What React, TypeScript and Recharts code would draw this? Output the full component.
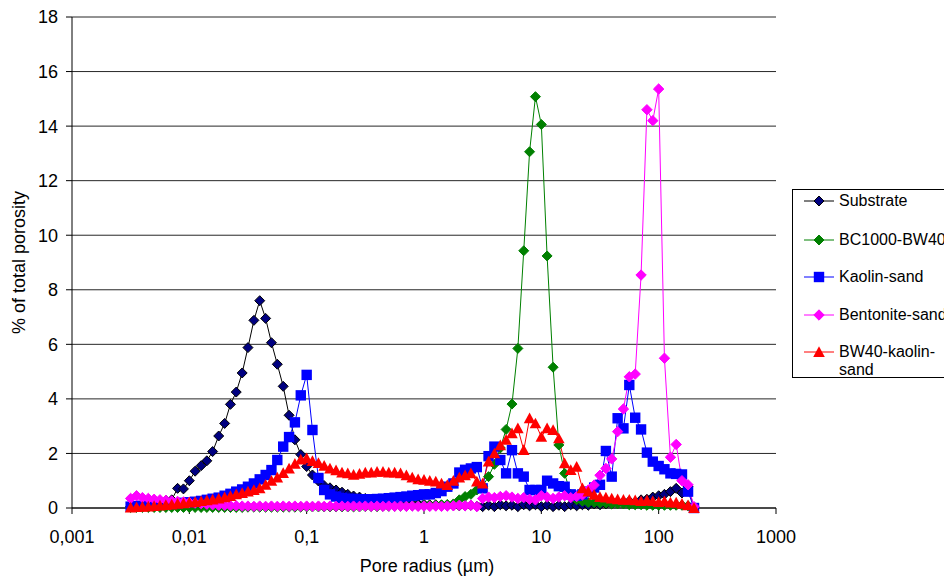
import { LineChart, Line, XAxis, YAxis, CartesianGrid } from 'recharts';

// pore radius (µm), shared by all five curves
const radius = [
  0.00316, 0.00355, 0.00398, 0.00447, 0.00501, 0.00562, 0.00631, 0.00708, 0.00794, 0.00891,
  0.01, 0.0112, 0.0126, 0.0141, 0.0158, 0.0178, 0.02, 0.0224, 0.0251, 0.0282,
  0.0316, 0.0355, 0.0398, 0.0447, 0.0501, 0.0562, 0.0631, 0.0708, 0.0794, 0.0891,
  0.1, 0.112, 0.126, 0.141, 0.158, 0.178, 0.2, 0.224, 0.251, 0.282,
  0.316, 0.355, 0.398, 0.447, 0.501, 0.562, 0.631, 0.708, 0.794, 0.891,
  1, 1.12, 1.26, 1.41, 1.58, 1.78, 2, 2.24, 2.51, 2.82,
  3.16, 3.55, 3.98, 4.47, 5.01, 5.62, 6.31, 7.08, 7.94, 8.91,
  10, 11.2, 12.6, 14.1, 15.8, 17.8, 20, 22.4, 25.1, 28.2,
  31.6, 35.5, 39.8, 44.7, 50.1, 56.2, 63.1, 70.8, 79.4, 89.1,
  100, 112, 126, 141, 158, 178, 200,
];

const substrate = [
  0.05, 0.08, 0.1, 0.12, 0.15, 0.2, 0.28, 0.3, 0.72, 0.7,
  1.0, 1.35, 1.55, 1.73, 2.07, 2.64, 3.1, 3.8, 4.25, 4.95,
  5.88, 6.88, 7.6, 6.95, 6.06, 5.27, 4.46, 3.4, 2.5, 1.96,
  1.52, 1.21, 0.99, 0.82, 0.74, 0.66, 0.58, 0.5, 0.44, 0.4,
  0.35, 0.31, 0.28, 0.25, 0.22, 0.2, 0.18, 0.17, 0.15, 0.14,
  0.13, 0.12, 0.12, 0.1, 0.1, 0.1, 0.08, 0.08, 0.1, 0.06,
  0.05, 0.1, 0.05, 0.12, 0.08, 0.1, 0.05, 0.12, 0.08, 0.12,
  0.05, 0.1, 0.05, 0.1, 0.05, 0.12, 0.08, 0.12, 0.1, 0.15,
  0.12, 0.15, 0.15, 0.2, 0.22, 0.25, 0.2, 0.3, 0.32, 0.4,
  0.45, 0.5, 0.6, 0.72, 0.55, 0.8, 0,
];

const bc1000 = [
  0.02, 0.02, 0.02, 0.02, 0.02, 0.02, 0.02, 0.02, 0.02, 0.02,
  0.02, 0.02, 0.02, 0.02, 0.02, 0.02, 0.02, 0.02, 0.02, 0.02,
  0.03, 0.03, 0.03, 0.03, 0.03, 0.03, 0.03, 0.03, 0.03, 0.03,
  0.04, 0.04, 0.04, 0.04, 0.04, 0.04, 0.04, 0.04, 0.04, 0.04,
  0.05, 0.05, 0.05, 0.06, 0.06, 0.06, 0.07, 0.07, 0.08, 0.08,
  0.09, 0.1, 0.1, 0.12, 0.13, 0.15, 0.3, 0.42, 0.5, 0.66,
  0.8, 1.15, 1.6, 2.2, 2.88, 3.81, 5.85, 9.43, 13.06, 15.08,
  14.06, 9.24, 5.16, 2.31, 1.27, 0.5, 0.3, 0.25, 0.2, 0.2,
  0.18, 0.18, 0.15, 0.15, 0.15, 0.12, 0.12, 0.12, 0.1, 0.1,
  0.1, 0.1, 0.1, 0.1, 0.1, 0.08, 0,
];

const kaolin = [
  0.05, 0.07, 0.08, 0.09, 0.1, 0.12, 0.13, 0.15, 0.17, 0.19,
  0.21, 0.23, 0.26, 0.3, 0.34, 0.38, 0.45, 0.52, 0.6, 0.68,
  0.78, 0.9, 1.05, 1.21, 1.39, 1.76, 2.25, 2.6, 3.14, 4.13,
  4.88, 2.86, 1.1, 0.66, 0.5, 0.42, 0.37, 0.34, 0.33, 0.32,
  0.32, 0.32, 0.33, 0.34, 0.36, 0.38, 0.4, 0.42, 0.45, 0.47,
  0.5, 0.5, 0.55, 0.62, 0.78, 0.9, 1.3, 1.4, 1.45, 1.5,
  0.72, 1.9, 2.25, 1.76, 1.27, 2.12, 1.27, 1.15, 0.66, 0.66,
  0.66, 1.0, 0.9, 0.8, 0.78, 0.5, 0.45, 0.5, 0.6, 0.75,
  0.85, 2.09, 1.15, 3.29, 2.92, 4.51, 3.31, 2.88, 2.03, 1.7,
  1.54, 1.42, 1.27, 1.25, 1.23, 0.6, 0,
];

const bentonite = [
  0.35, 0.45, 0.38, 0.35, 0.32, 0.3, 0.28, 0.26, 0.24, 0.22,
  0.2, 0.18, 0.16, 0.14, 0.12, 0.1, 0.1, 0.08, 0.08, 0.07,
  0.07, 0.06, 0.07, 0.06, 0.07, 0.06, 0.07, 0.06, 0.07, 0.06,
  0.07, 0.06, 0.07, 0.06, 0.07, 0.06, 0.07, 0.06, 0.07, 0.06,
  0.07, 0.06, 0.07, 0.06, 0.07, 0.06, 0.07, 0.06, 0.07, 0.06,
  0.07, 0.06, 0.07, 0.06, 0.07, 0.08, 0.1, 0.08, 0.1, 0.05,
  0.35, 0.4, 0.38, 0.42, 0.45, 0.4, 0.35, 0.38, 0.32, 0.3,
  0.45, 0.4, 0.35, 0.4, 0.45, 0.38, 0.42, 0.48, 0.66, 0.84,
  1.2, 1.45, 1.8, 2.8, 3.63, 4.81, 4.91, 8.54, 14.6, 14.2,
  15.36, 5.49, 1.86, 2.33, 1.0, 0.85, 0.05,
];

const bw40 = [
  0.02, 0.03, 0.04, 0.05, 0.07, 0.09, 0.11, 0.13, 0.15, 0.17,
  0.2, 0.22, 0.25, 0.28, 0.31, 0.35, 0.39, 0.44, 0.5, 0.55,
  0.6, 0.66, 0.72, 0.85, 1.0, 1.12, 1.28, 1.45, 1.62, 1.78,
  1.82, 1.72, 1.65, 1.55, 1.45, 1.38, 1.3, 1.27, 1.22, 1.25,
  1.3, 1.3, 1.33, 1.33, 1.3, 1.3, 1.27, 1.2, 1.12, 1.05,
  1.03, 1.0, 0.97, 0.9, 0.84, 1.0, 1.12, 1.2, 1.27, 0.97,
  0.9, 1.7, 2.0, 2.3, 2.5, 2.74, 2.92, 2.12, 3.29, 3.1,
  2.61, 2.92, 2.86, 2.55, 1.64, 1.39, 1.51, 0.72, 0.6, 0.48,
  0.4, 0.38, 0.35, 0.32, 0.3, 0.3, 0.28, 0.25, 0.28, 0.25,
  0.22, 0.25, 0.2, 0.2, 0.15, 0.1, 0,
];

const xTicks = [0.001, 0.01, 0.1, 1, 10, 100, 1000];
const xTickLabels = ['0,001', '0,01', '0,1', '1', '10', '100', '1000'];
const yTicks = [0, 2, 4, 6, 8, 10, 12, 14, 16, 18];

const FONT = '"Liberation Sans", Arial, sans-serif';

type DotProps = { cx?: number; cy?: number; index?: number };

function diamond(fill: string, stroke: string, r: number) {
  return (p: DotProps) => {
    if (p.cx == null || p.cy == null) return <g key={p.index} />;
    const { cx, cy } = p;
    return (
      <path
        key={p.index}
        d={`M${cx},${cy - r}L${cx + r},${cy}L${cx},${cy + r}L${cx - r},${cy}Z`}
        fill={fill}
        stroke={stroke}
        strokeWidth={1}
      />
    );
  };
}

function square(fill: string, h: number) {
  return (p: DotProps) => {
    if (p.cx == null || p.cy == null) return <g key={p.index} />;
    return <rect key={p.index} x={p.cx - h} y={p.cy - h} width={h * 2} height={h * 2} fill={fill} />;
  };
}

function triangle(fill: string, r: number) {
  return (p: DotProps) => {
    if (p.cx == null || p.cy == null) return <g key={p.index} />;
    const { cx, cy } = p;
    return (
      <path
        key={p.index}
        d={`M${cx},${cy - r}L${cx + r},${cy + r * 0.85}L${cx - r},${cy + r * 0.85}Z`}
        fill={fill}
      />
    );
  };
}

const series = [
  { key: 'substrate', name: 'Substrate', line: '#000000', dot: diamond('#000080', '#000000', 5) },
  { key: 'bc1000', name: 'BC1000-BW40', line: '#008000', dot: diamond('#008000', '#008000', 5) },
  { key: 'kaolin', name: 'Kaolin-sand', line: '#0000ff', dot: square('#0000ff', 5.2) },
  { key: 'bentonite', name: 'Bentonite-sand', line: '#ff00ff', dot: diamond('#ff00ff', '#ff00ff', 5.2) },
  { key: 'bw40', name: 'BW40-kaolin-sand', line: '#ff0000', dot: triangle('#ff0000', 5.8) },
];

const data = radius.map((r, i) => ({
  r,
  substrate: substrate[i],
  bc1000: bc1000[i],
  kaolin: kaolin[i],
  bentonite: bentonite[i],
  bw40: bw40[i],
}));

function LegendIcon({ idx }: { idx: number }) {
  const s = series[idx];
  const Dot = s.dot as (p: DotProps) => JSX.Element;
  return (
    <svg width={30} height={14} style={{ display: 'block', flex: 'none' }}>
      <line x1={0} y1={7} x2={30} y2={7} stroke={s.line} strokeWidth={1} />
      {Dot({ cx: 15, cy: 7, index: 0 })}
    </svg>
  );
}

const legendRows = [
  { label: ['Substrate'], top: 2 },
  { label: ['BC1000-BW40'], top: 40.5 },
  { label: ['Kaolin-sand'], top: 78 },
  { label: ['Bentonite-sand'], top: 115.5 },
  { label: ['BW40-kaolin-', 'sand'], top: 153 },
];

export default function App() {
  return (
    <div
      style={{
        position: 'absolute',
        left: 0,
        top: 0,
        width: 944,
        height: 578,
        overflow: 'hidden',
        background: '#fff',
        fontFamily: FONT,
      }}
    >
      <LineChart width={944} height={578} data={data} margin={{ top: 17, right: 168, bottom: 0, left: 0 }}>
        <CartesianGrid vertical={false} stroke="#000" strokeOpacity={0.85} />
        <XAxis
          dataKey="r"
          type="number"
          scale="log"
          domain={[0.001, 1000]}
          allowDataOverflow
          ticks={xTicks}
          tickFormatter={(_v: number, i: number) => xTickLabels[i]}
          height={70}
          tickSize={6}
          tickMargin={16}
          axisLine={{ stroke: '#000' }}
          tickLine={{ stroke: '#000' }}
          tick={{ fontSize: 18, fill: '#000' }}
          label={{
            content: (props: any) => {
              const vb = props.viewBox;
              return (
                <text x={vb.x + vb.width / 2 + 3} y={vb.y + 64} textAnchor="middle" fontSize={18} fill="#000">
                  Pore radius (µm)
                </text>
              );
            },
          }}
        />
        <YAxis
          type="number"
          domain={[0, 18]}
          ticks={yTicks}
          interval={0}
          width={72}
          tickSize={6}
          tickMargin={8}
          axisLine={{ stroke: '#000' }}
          tickLine={{ stroke: '#000' }}
          tick={{ fontSize: 18, fill: '#000' }}
          label={{
            content: (props: any) => {
              const vb = props.viewBox;
              const x = vb.x + 25;
              const y = vb.y + vb.height / 2;
              return (
                <text x={x} y={y} transform={`rotate(-90 ${x} ${y})`} textAnchor="middle" fontSize={18} fill="#000">
                  % of total porosity
                </text>
              );
            },
          }}
        />
        {series.map((s) => (
          <Line
            key={s.key}
            dataKey={s.key}
            name={s.name}
            type="linear"
            stroke={s.line}
            strokeWidth={1}
            dot={s.dot as any}
            activeDot={false}
            isAnimationActive={false}
          />
        ))}
      </LineChart>
      <div
        style={{
          position: 'absolute',
          left: 792,
          top: 189,
          width: 170,
          height: 189,
          border: '1px solid #000',
          boxSizing: 'border-box',
          fontSize: 16,
          lineHeight: '18px',
          color: '#000',
        }}
      >
        {legendRows.map((row, i) => (
          <div
            key={row.label[0]}
            style={{ position: 'absolute', left: 11, top: row.top, display: 'flex', alignItems: 'flex-start', whiteSpace: 'nowrap' }}
          >
            <div style={{ paddingTop: 2, marginRight: 5 }}>
              <LegendIcon idx={i} />
            </div>
            <div>
              {row.label.map((t) => (
                <div key={t}>{t}</div>
              ))}
            </div>
          </div>
        ))}
      </div>
    </div>
  );
}
